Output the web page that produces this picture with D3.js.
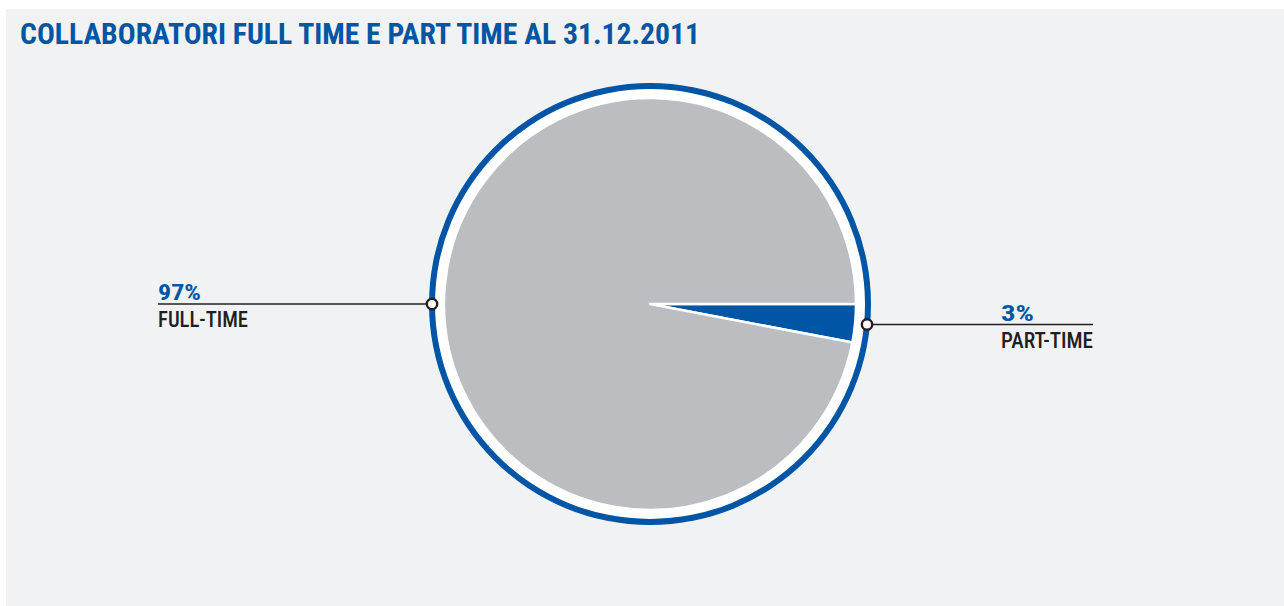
<!DOCTYPE html>
<html>
<head>
<meta charset="utf-8">
<script src="https://cdn.jsdelivr.net/npm/d3@7"></script>
<style>
  html, body { margin: 0; padding: 0; background: #ffffff; }
  svg { display: block; }
  text { font-family: "Roboto Condensed", Roboto, "Liberation Sans", sans-serif; }
</style>
</head>
<body>
<svg id="chart" width="1284" height="606"></svg>
<script>
const title = "COLLABORATORI FULL TIME E PART TIME AL 31.12.2011";
const categories = ["PART-TIME", "FULL-TIME"];
const values = [3, 97];
const valueLabels = ["3%", "97%"];
const colors = ["#0055a4", "#bcbdc0"];

const W = 1284, H = 606;
const svg = d3.select("#chart");

// panel
svg.append("rect").attr("x", 6).attr("y", 9).attr("width", W - 6).attr("height", H - 9)
  .attr("fill", "#f1f2f4");

// title
svg.append("text").attr("x", 20).attr("y", 44)
  .attr("fill", "#0055a4").attr("font-size", 29).attr("font-weight", 700)
  .attr("textLength", 680).attr("lengthAdjust", "spacingAndGlyphs")
  .text(title);

const cx = 650, cy = 304;
const rPie = 206, rRingIn = 215, rRingOut = 221, rMarker = 218;
const g = svg.append("g").attr("transform", `translate(${cx},${cy})`);

// white ring background + blue outer ring
g.append("circle").attr("r", rRingIn).attr("fill", "#ffffff");
g.append("path")
  .attr("d", d3.arc().innerRadius(rRingIn).outerRadius(rRingOut).startAngle(0).endAngle(2 * Math.PI)())
  .attr("fill", "#0055a4");

const pie = d3.pie().sort(null).value(d => d)
  .startAngle(Math.PI / 2).endAngle(Math.PI / 2 + 2 * Math.PI);
const arcs = pie(values);
const arc = d3.arc().innerRadius(0).outerRadius(rPie);

g.selectAll("path.slice").data(arcs).enter().append("path")
  .attr("class", "slice")
  .attr("d", arc)
  .attr("fill", (d, i) => colors[i])
  .attr("stroke", "#ffffff").attr("stroke-width", 2.5).attr("stroke-linejoin", "round");

// label anchors: part-time at slice mid angle, full-time at 9 o'clock
const anchorAngles = [(arcs[0].startAngle + arcs[0].endAngle) / 2, 3 * Math.PI / 2];
const lineEnds = [1093, 158];
const textX = [1001, 158];

categories.forEach((cat, i) => {
  const a = anchorAngles[i];
  const px = cx + rMarker * Math.sin(a);
  const py = cy - rMarker * Math.cos(a);
  svg.append("line").attr("x1", px).attr("y1", py).attr("x2", lineEnds[i]).attr("y2", py)
    .attr("stroke", "#231f20").attr("stroke-width", 1.3);
  svg.append("circle").attr("cx", px).attr("cy", py).attr("r", 5.2)
    .attr("fill", "#ffffff").attr("stroke", "#231f20").attr("stroke-width", 2.4);
  const vw = i === 0 ? 33 : 43;
  const cw = i === 0 ? 92 : 90;
  svg.append("text").attr("x", textX[i]).attr("y", py - 4)
    .attr("fill", "#0055a4").attr("font-size", 22).attr("font-weight", 700)
    .attr("textLength", vw).attr("lengthAdjust", "spacingAndGlyphs")
    .text(valueLabels[i]);
  svg.append("text").attr("x", textX[i]).attr("y", py + 23)
    .attr("fill", "#231f20").attr("font-size", 22).attr("font-weight", 500)
    .attr("textLength", cw).attr("lengthAdjust", "spacingAndGlyphs")
    .text(cat);
});
</script>
</body>
</html>
